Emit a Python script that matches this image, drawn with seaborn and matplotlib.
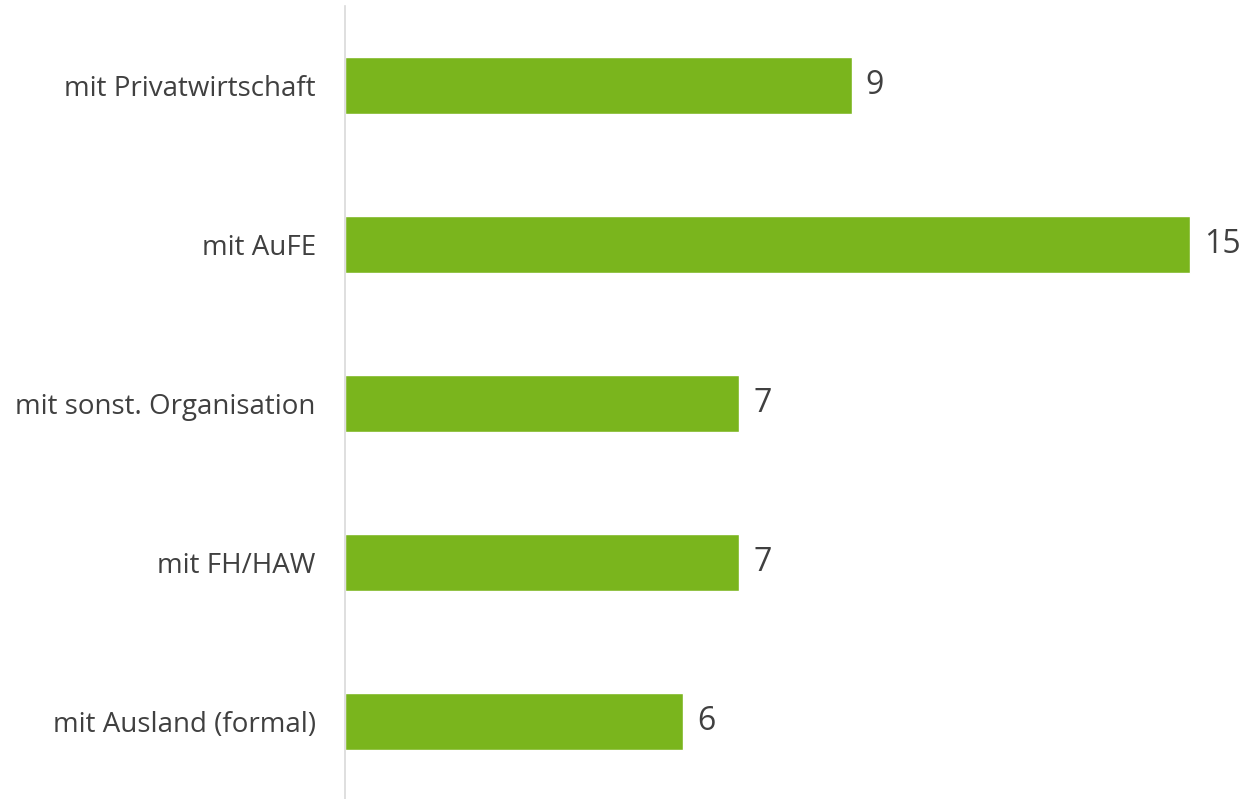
import matplotlib
matplotlib.use("Agg")
import matplotlib.pyplot as plt
import pandas as pd
import seaborn as sns

categories = [
    "mit Privatwirtschaft",
    "mit AuFE",
    "mit sonst. Organisation",
    "mit FH/HAW",
    "mit Ausland (formal)",
]
values = [9, 15, 7, 7, 6]

BAR_COLOR = "#7AB51D"
TEXT_COLOR = "#404040"

sns.set_theme(style="white")
plt.rcParams["font.family"] = ["Open Sans", "DejaVu Sans"]

df = pd.DataFrame({"category": categories, "value": values})

fig = plt.figure(figsize=(12.48, 7.99), dpi=100)
ax = fig.add_axes([0.2764, -0.0025, 0.7236, 0.995])

sns.barplot(data=df, y="category", x="value", color=BAR_COLOR,
            width=0.36, orient="h", ax=ax, saturation=1)

ax.set_xlim(0, 16.03)
ax.set_xlabel("")
ax.set_ylabel("")
ax.set_xticks([])
for side in ["top", "right", "bottom"]:
    ax.spines[side].set_visible(False)
ax.spines["left"].set_color("#D9D9D9")
ax.spines["left"].set_linewidth(1.2)
ax.tick_params(axis="y", length=0, pad=21, labelsize=20, labelcolor=TEXT_COLOR)

ax.bar_label(ax.containers[0], fmt="%d", padding=10, fontsize=23, color=TEXT_COLOR)

fig.savefig("out.png", dpi=100)
